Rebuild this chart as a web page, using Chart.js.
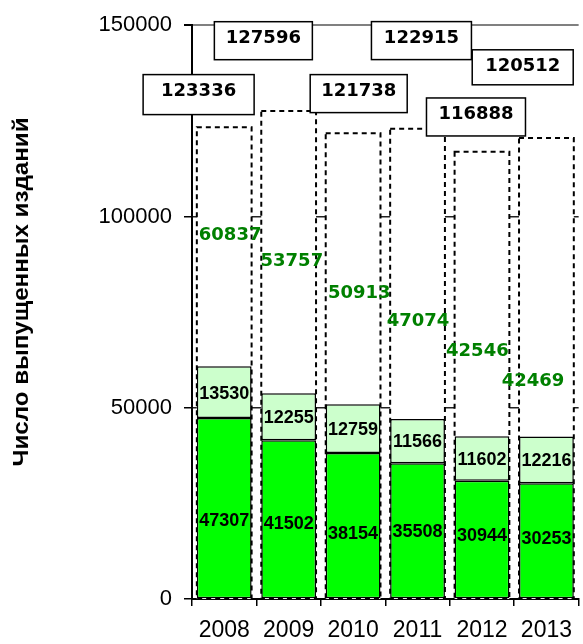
<!DOCTYPE html>
<html>
<head>
<meta charset="utf-8">
<script src="https://cdn.jsdelivr.net/npm/chart.js@4.4.1/dist/chart.umd.min.js"></script>
<style>
  html, body { margin: 0; padding: 0; background: #fff; overflow: hidden; }
  #wrap { width: 583px; height: 644px; position: relative; }
</style>
</head>
<body>
<div id="wrap"><canvas id="c"></canvas></div>
<script>
// ---- data ----
const years = ['2008', '2009', '2010', '2011', '2012', '2013'];
const mainSeries = [47307, 41502, 38154, 35508, 30944, 30253];
const secondSeries = [13530, 12255, 12759, 11566, 11602, 12216];
const sumLabels = [60837, 53757, 50913, 47074, 42546, 42469];
const totals = [123336, 127596, 121738, 122915, 116888, 120512];
const yTicks = [0, 50000, 100000, 150000];
const yTitle = 'Число выпущенных изданий';

// ---- label layout (offsets from bar / value position) ----
const totalBoxLayout = [
  { dx: -25.6, dy: -38.1, w: 111, h: 40 },
  { dx: -25.3, dy: -74.7, w: 98, h: 38 },
  { dx: 5.6, dy: -44.2, w: 97, h: 38 },
  { dx: 3.9, dy: -92.7, w: 100, h: 38 },
  { dx: -6.0, dy: -39.4, w: 99, h: 38 },
  { dx: -23.7, dy: -73.7, w: 101, h: 35 }
];
const sumLayout = [
  { dx: 5.9, dy: -132.8 }, { dx: 3.2, dy: -134 }, { dx: 6.1, dy: -112.9 },
  { dx: 0.4, dy: -99.9 }, { dx: -4.6, dy: -87.3 }, { dx: -13.4, dy: -57.6 }
];
const innerDy = [11, 3, 7, 0, -4.5, -3];

const labelPlugin = {
  id: 'labelPlugin',
  afterDatasetDraw(chart, args) {
    if (chart.data.datasets[args.index].id !== 'total') return;
    const ctx = chart.ctx;
    ctx.save();
    ctx.strokeStyle = '#000';
    ctx.lineWidth = 2;
    ctx.setLineDash([5, 4]);
    args.meta.data.forEach(el => {
      const p = el.getProps(['x', 'y', 'base', 'width'], true);
      const l = p.x - p.width / 2, r = p.x + p.width / 2;
      ctx.strokeRect(l, p.y, r - l, p.base - p.y);
    });
    ctx.restore();
  },
  afterDatasetsDraw(chart) {
    const ctx = chart.ctx;
    const yS = chart.scales.y;
    const metaMain = chart.getDatasetMeta(0);
    const metaSecond = chart.getDatasetMeta(1);
    ctx.save();
    ctx.textAlign = 'center';
    ctx.textBaseline = 'alphabetic';
    // inner value labels
    ctx.fillStyle = '#000';
    ctx.font = 'bold 18px "Liberation Sans", Arial, sans-serif';
    metaMain.data.forEach((el, i) => {
      const p = el.getProps(['x', 'y', 'base'], true);
      ctx.fillText(String(mainSeries[i]), p.x, (p.y + p.base) / 2 + innerDy[i] + 6.4);
    });
    metaSecond.data.forEach((el, i) => {
      const p = el.getProps(['x', 'y', 'base'], true);
      ctx.fillText(String(secondSeries[i]), p.x, (p.y + p.base) / 2 + 6.4);
    });
    // sum labels (green)
    ctx.fillStyle = '#008000';
    ctx.font = 'bold 18px "DejaVu Sans", Verdana, sans-serif';
    metaMain.data.forEach((el, i) => {
      const x = el.x + sumLayout[i].dx;
      const y = yS.getPixelForValue(sumLabels[i]) + sumLayout[i].dy;
      ctx.fillText(String(sumLabels[i]), x, y + 6.6);
    });
    // total boxes
    metaMain.data.forEach((el, i) => {
      const L = totalBoxLayout[i];
      const x = el.x + L.dx;
      const y = yS.getPixelForValue(totals[i]) + L.dy;
      ctx.fillStyle = '#fff';
      ctx.fillRect(x - L.w / 2, y - 14.5, L.w, L.h);
      ctx.strokeStyle = '#000';
      ctx.lineWidth = 1.5;
      ctx.strokeRect(x - L.w / 2, y - 14.5, L.w, L.h);
      ctx.fillStyle = '#000';
      ctx.fillText(String(totals[i]), x, y + 6.6);
    });
    ctx.restore();
  },
  afterDraw(chart) {
    const ctx = chart.ctx;
    ctx.save();
    ctx.font = 'bold 22px "Liberation Sans", Arial, sans-serif';
    const w = ctx.measureText(yTitle).width;
    const k = 349 / w;
    ctx.translate(27.5, 292);
    ctx.rotate(-Math.PI / 2);
    ctx.scale(k, 1);
    ctx.fillStyle = '#000';
    ctx.textAlign = 'center';
    ctx.textBaseline = 'alphabetic';
    ctx.fillText(yTitle, 0, 0);
    ctx.restore();
  }
};

new Chart(document.getElementById('c'), {
  type: 'bar',
  data: {
    labels: years,
    datasets: [
      {
        label: 'main', data: mainSeries, yAxisID: 'y',
        backgroundColor: '#00FF00', borderColor: '#000', borderWidth: 1.5,
        borderSkipped: false, order: 0
      },
      {
        label: 'second', data: secondSeries, yAxisID: 'y',
        backgroundColor: '#CCFFCC', borderColor: '#000', borderWidth: 1.5,
        borderSkipped: false, order: 0
      },
      {
        id: 'total', label: 'total', data: totals, yAxisID: 'y2',
        backgroundColor: '#FFFFFF', borderWidth: 0, order: 1
      }
    ]
  },
  options: {
    responsive: true,
    maintainAspectRatio: false,
    animation: false,
    devicePixelRatio: 1,
    layout: { padding: { left: 0, right: 0, top: 22, bottom: 0 } },
    datasets: { bar: { categoryPercentage: 1.0, barPercentage: 0.85 } },
    plugins: { legend: { display: false }, tooltip: { enabled: false }, title: { display: false } },
    scales: {
      x: {
        stacked: true,
        grid: { display: true, drawOnChartArea: false, drawTicks: true, tickLength: 7, color: '#000', lineWidth: 1.5, offset: true },
        border: { display: true, color: '#000', width: 2 },
        ticks: { color: '#000', font: { family: '"Liberation Sans", Arial, sans-serif', size: 23 }, padding: 11, maxRotation: 0 },
        afterFit(s) { s.height = 45; }
      },
      y: {
        stacked: true, min: 0, max: 150000,
        afterBuildTicks(s) { s.ticks = yTicks.map(v => ({ value: v })); },
        grid: {
          color: c => (c.tick && c.tick.value === 150000) ? '#808080' : '#222',
          lineWidth: c => (c.tick && c.tick.value === 150000) ? 2 : 1.5,
          tickColor: '#000', tickLength: 8, drawTicks: true
        },
        border: { display: true, color: '#000', width: 2 },
        ticks: {
          color: '#000', padding: 12,
          font: { family: '"Liberation Sans", Arial, sans-serif', size: 22 },
          callback: v => String(v)
        },
        afterFit(s) { s.width = 192; }
      },
      y2: {
        display: false, stacked: false, min: 0, max: 150000
      }
    }
  },
  plugins: [labelPlugin]
});
</script>
</body>
</html>
